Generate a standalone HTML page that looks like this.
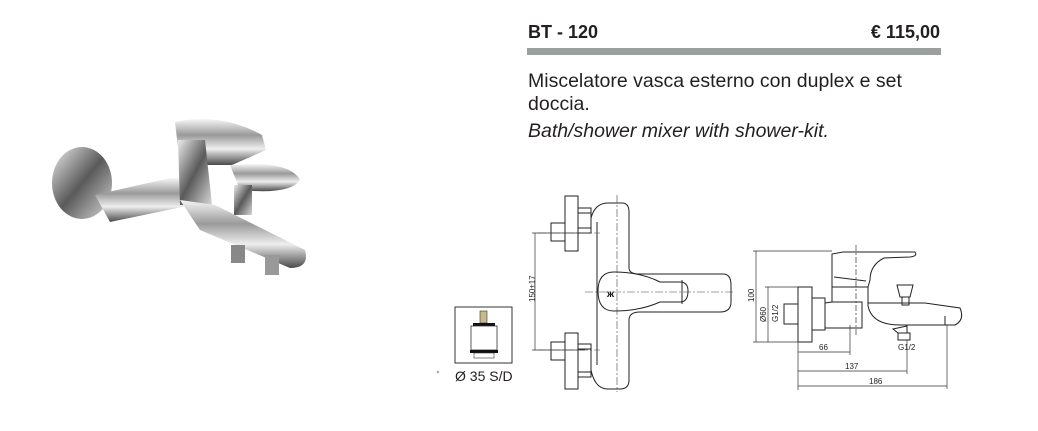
<!DOCTYPE html>
<html><head><meta charset="utf-8"><style>
body{margin:0;width:1038px;height:431px;background:#fff;position:relative;overflow:hidden;font-family:"Liberation Sans",sans-serif;}
.t{position:absolute;color:#231f20;white-space:nowrap}
</style></head><body>
<div class="t" style="left:528px;top:22px;font-size:18px;font-weight:bold;">BT - 120</div>
<div class="t" style="right:98px;top:22px;font-size:18px;font-weight:bold;">€ 115,00</div>
<div style="position:absolute;left:527px;top:48px;width:414px;height:7px;background:#9aa09d"></div>
<div class="t" style="left:528px;top:70px;font-size:19.5px;">Miscelatore vasca esterno con duplex e set</div>
<div class="t" style="left:528px;top:93px;font-size:19.5px;">doccia.</div>
<div class="t" style="left:528px;top:120px;font-size:19.5px;font-style:italic;">Bath/shower mixer with shower-kit.</div>
<div class="t" style="left:455px;top:368px;font-size:14px;">Ø 35 S/D</div>
<div class="t" style="left:437px;top:370px;font-size:10px;">'</div>
<svg width="1038" height="431" style="position:absolute;left:0;top:0" xmlns="http://www.w3.org/2000/svg">
<defs>
<linearGradient id="g1" x1="0" y1="0" x2="0" y2="1"><stop offset="0" stop-color="#f6f6f6"/><stop offset="0.35" stop-color="#9a9a9a"/><stop offset="0.65" stop-color="#eeeeee"/><stop offset="1" stop-color="#4a4a4a"/></linearGradient>
<linearGradient id="g2" x1="0" y1="0" x2="1" y2="1"><stop offset="0" stop-color="#eaeaea"/><stop offset="0.5" stop-color="#5a5a5a"/><stop offset="1" stop-color="#d8d8d8"/></linearGradient>
</defs>
<!-- photo -->
<ellipse cx="82" cy="183" rx="30" ry="36" fill="url(#g2)"/>
<path d="M95 195 L170 178 L185 178 L192 205 L110 222 Z" fill="url(#g1)"/>
<path d="M175 122 Q220 112 262 135 L266 150 L232 165 L180 165 Z" fill="url(#g1)"/>
<path d="M178 140 L205 140 L212 205 L180 205 Z" fill="url(#g2)"/>
<path d="M230 165 Q290 160 300 180 Q290 195 240 190 Z" fill="url(#g1)"/>
<path d="M180 200 L215 205 L305 250 Q310 268 290 268 L200 230 Z" fill="url(#g1)"/>
<rect x="234" y="185" width="18" height="30" fill="url(#g2)"/>
<rect x="231" y="245" width="14" height="18" fill="#888"/>
<rect x="265" y="255" width="14" height="20" fill="#999"/>
<!-- cartridge -->
<rect x="455" y="307" width="57" height="56" fill="none" stroke="#333" stroke-width="1"/>
<rect x="480" y="311" width="7" height="12" fill="#c8b88a" stroke="#333" stroke-width="0.6"/>
<rect x="473" y="323" width="22" height="3" fill="#111"/>
<rect x="471" y="326" width="26" height="24" fill="#fff" stroke="#333" stroke-width="0.8"/>
<rect x="470" y="350" width="28" height="3" fill="#111"/>
<rect x="474" y="353" width="20" height="5" fill="none" stroke="#333" stroke-width="0.6"/>
<g fill="none" stroke="#222" stroke-width="1">
<rect x="565" y="196" width="13" height="55"/>
<rect x="565" y="333" width="13" height="56"/>
<rect x="578" y="208" width="13" height="25"/><line x1="578" y1="213" x2="591" y2="213"/><line x1="578" y1="228" x2="591" y2="228"/>
<rect x="578" y="344" width="13" height="33"/><line x1="578" y1="349" x2="591" y2="349"/><line x1="578" y1="372" x2="591" y2="372"/>
<rect x="551" y="223" width="14" height="18"/>
<rect x="551" y="342" width="14" height="18"/>
<path d="M591 218 Q595 203 608 203 L622 203 Q629 203 629 212 L629 268 Q629 274 640 274 L723 274 Q731 274 731 285 L731 302 Q731 312 720 312 L640 312 Q629 312 629 320 L629 380 Q629 389 620 389 L608 389 Q595 389 591 370"/>
<path d="M597 222 L597 365"/>
<path d="M614 272 Q640 272 660 282 L680 282 Q688 282 688 291 Q688 302 680 302 L660 302 Q640 311 614 311 Q598 311 598 291 Q598 272 614 272 Z"/>
<line x1="682" y1="280" x2="682" y2="304"/>
</g>
<text x="607" y="297" font-size="10" font-weight="bold" fill="#111" font-family="Liberation Sans">ж</text>
<g fill="none" stroke="#444" stroke-width="0.6" stroke-dasharray="8,2,2,2">
<line x1="585" y1="292" x2="735" y2="292"/>
<line x1="617" y1="195" x2="617" y2="392"/>
<line x1="538" y1="233" x2="600" y2="233"/><line x1="538" y1="350" x2="600" y2="350"/>
</g>
<g stroke="#333" stroke-width="0.7">
<line x1="535" y1="233" x2="535" y2="350"/>
<line x1="532" y1="233" x2="585" y2="233"/><line x1="532" y1="350" x2="585" y2="350"/>
</g>
<text x="0" y="0" font-size="8" fill="#222" font-family="Liberation Sans" transform="translate(535,302) rotate(-90)">150±17</text>
<g fill="none" stroke="#222" stroke-width="1">
<rect x="798" y="287" width="14" height="55"/>
<rect x="812" y="298" width="13" height="32"/>
<rect x="784" y="304" width="14" height="20"/>
<path d="M825 303 L832 302 L862 302 L862 328 L825 328"/>
<path d="M832 302 L832 287 L868 287 L868 306 Q872 325 900 325 L955 325 Q965 320 960 308 L925 303 L868 303"/>
<path d="M832 287 L832 254 L843 252 L915 252 Q918 256 910 257 L884 258 Q870 265 870 280 L868 287"/>
<path d="M834 277 L866 281"/>
<path d="M897 285 L900 297 L910 297 L913 285 Z"/><rect x="902" y="297" width="7" height="8"/>
<path d="M893 329 L907 326 L907 333 L898 333 Z"/>
<rect x="898" y="333" width="12" height="7"/>
<path d="M945 316 L945 325 L955 325"/>
</g>
<g stroke="#333" stroke-width="0.7" fill="none">
<line x1="756" y1="251" x2="756" y2="342"/><line x1="753" y1="251" x2="832" y2="251"/><line x1="753" y1="342" x2="798" y2="342"/>
<line x1="768" y1="287" x2="768" y2="342"/><line x1="765" y1="287" x2="798" y2="287"/>
<line x1="798" y1="342" x2="798" y2="390"/>
<line x1="798" y1="352" x2="850" y2="352"/><line x1="850" y1="325" x2="850" y2="355"/>
<line x1="798" y1="371" x2="907" y2="371"/><line x1="907" y1="340" x2="907" y2="374"/>
<line x1="798" y1="386" x2="947" y2="386"/><line x1="947" y1="325" x2="947" y2="389"/>
<line x1="856" y1="245" x2="856" y2="335" stroke-dasharray="6,2,2,2"/>
</g>
<g font-size="8" fill="#222" font-family="Liberation Sans">
<text transform="translate(754,302) rotate(-90)">100</text>
<text transform="translate(766,322) rotate(-90)">Ø60</text>
<text transform="translate(778,322) rotate(-90)">G1/2</text>
<text x="819" y="350">66</text>
<text x="845" y="369">137</text>
<text x="869" y="384">186</text>
<text x="898" y="350">G1/2</text>
</g>
</svg>
</body></html>
